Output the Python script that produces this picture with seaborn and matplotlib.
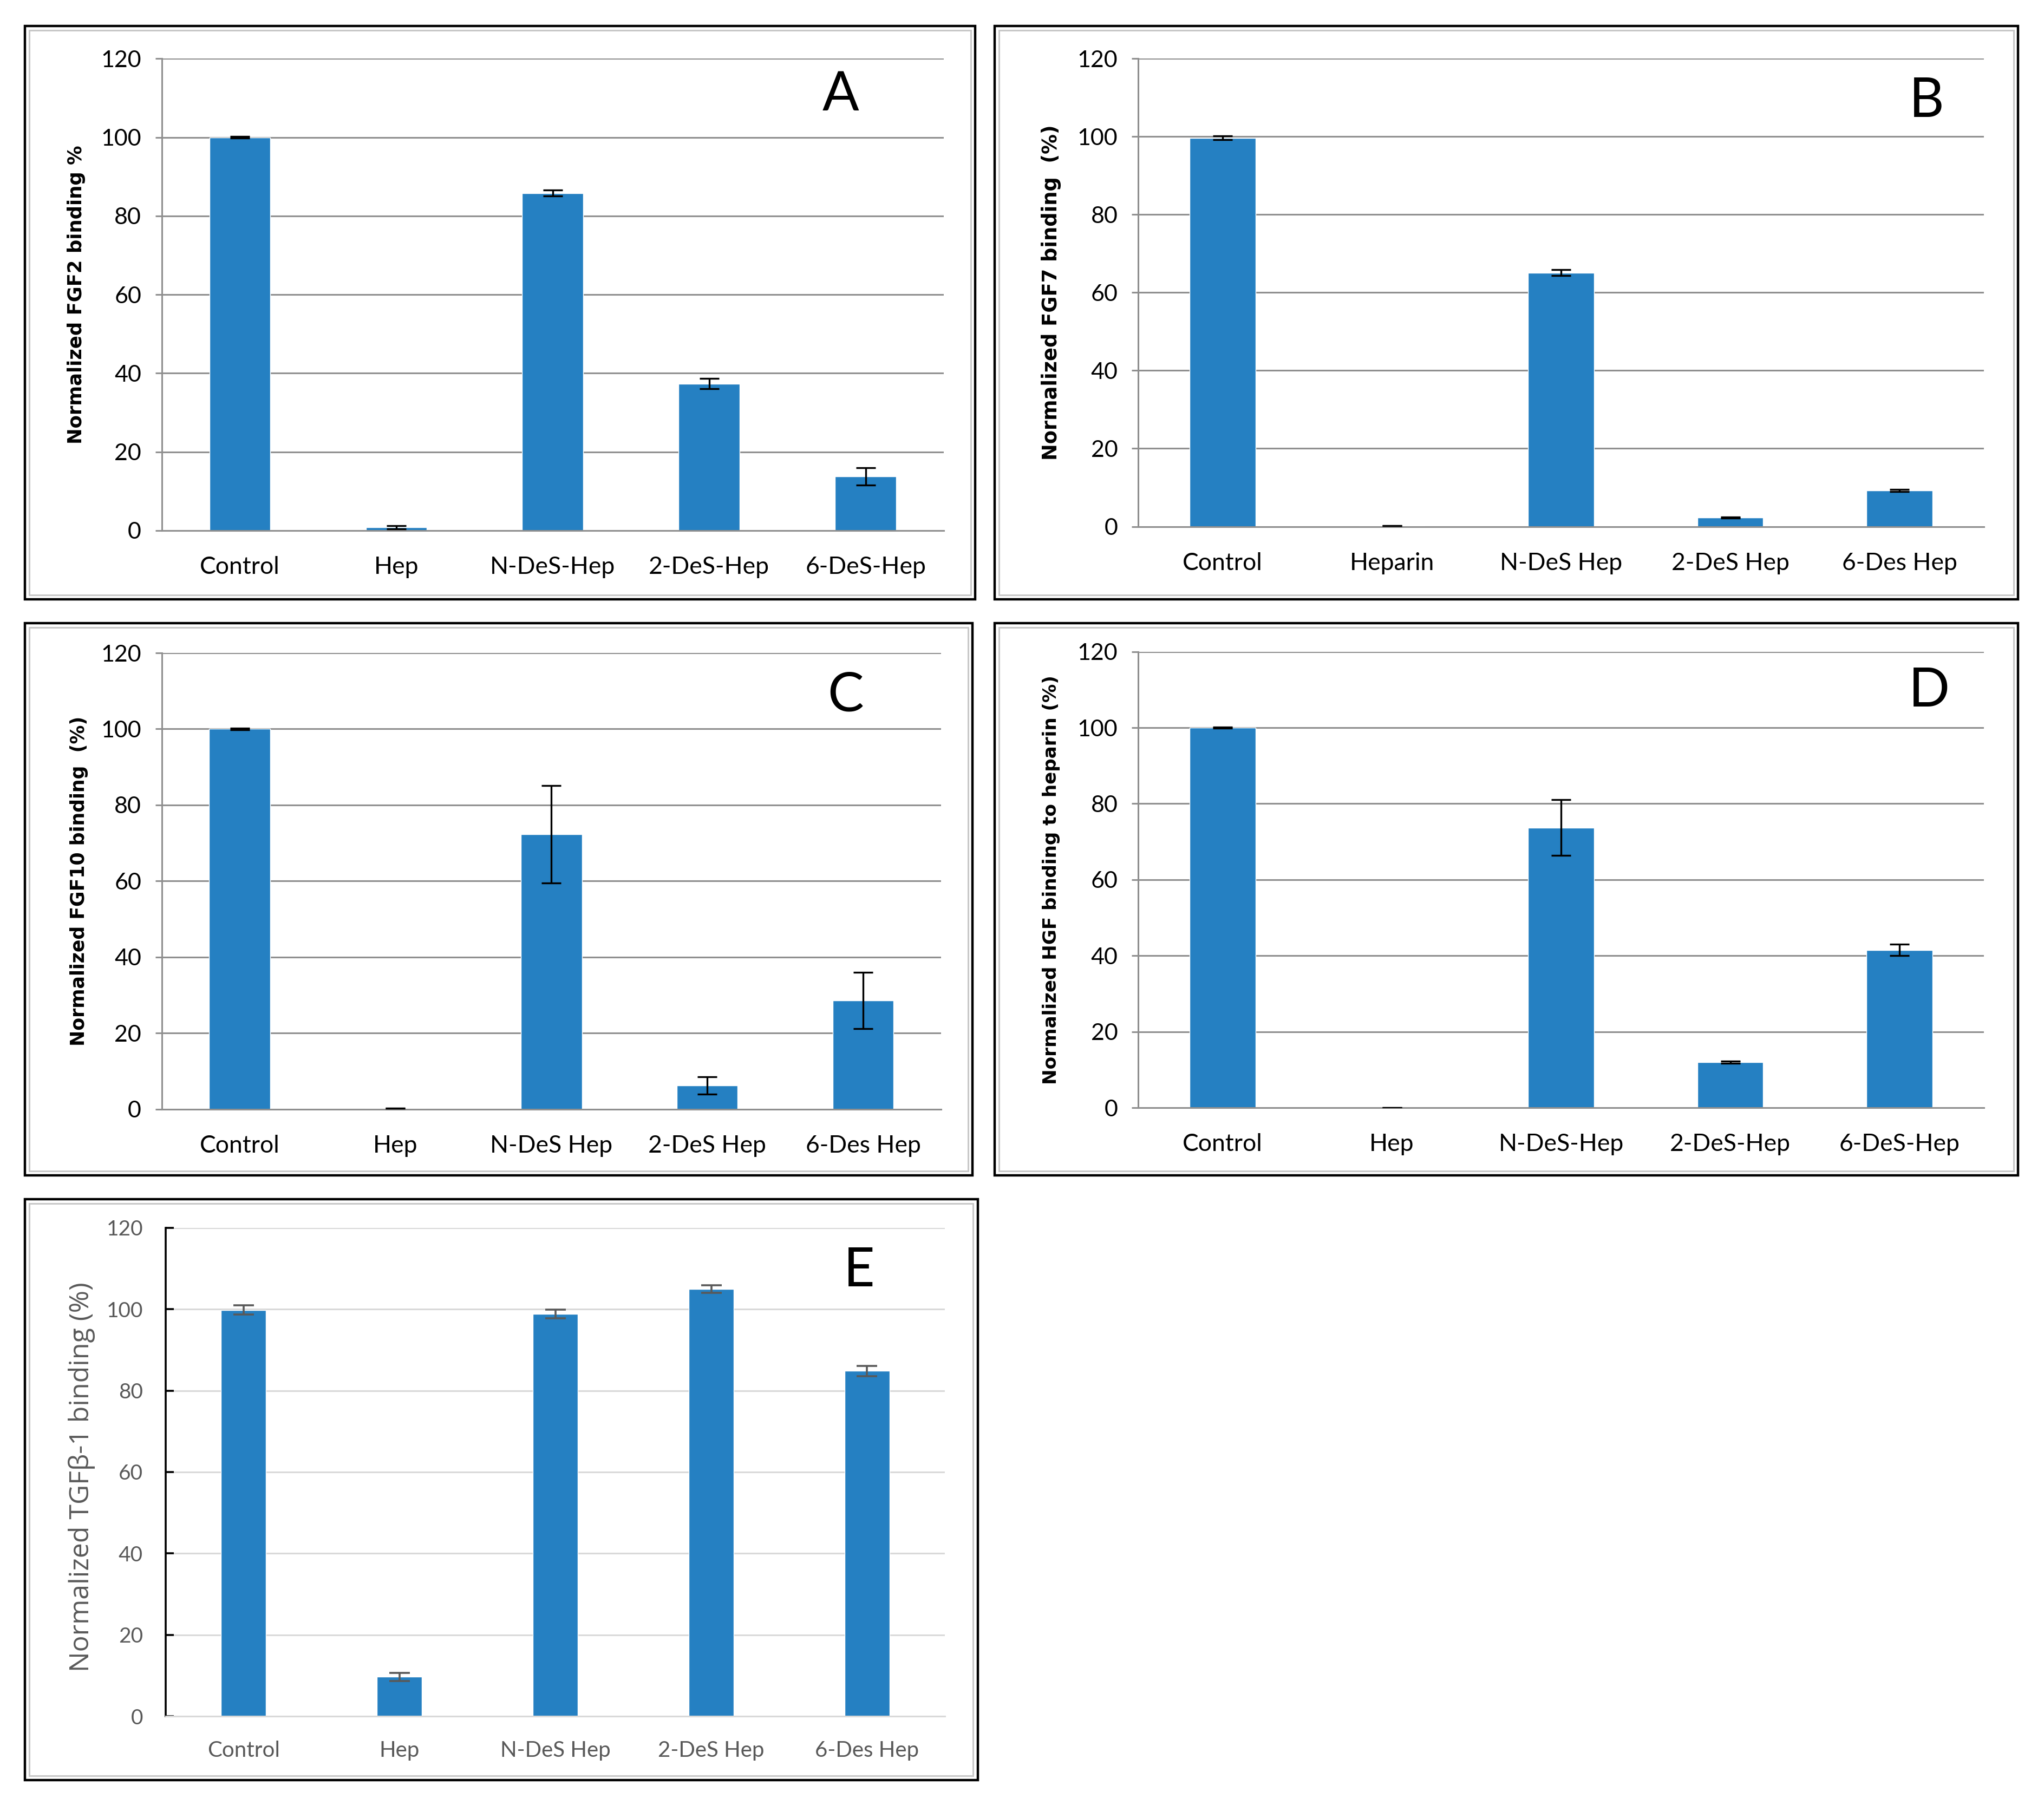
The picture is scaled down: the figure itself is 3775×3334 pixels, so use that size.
import numpy as np
import seaborn as sns
import matplotlib.pyplot as plt
from matplotlib.patches import Rectangle

# values (normalized binding, %)
cats_a = ["Control", "Hep", "N-DeS-Hep", "2-DeS-Hep", "6-DeS-Hep"]
vals_a = [100.0, 0.8, 85.8, 37.3, 13.7]
errs_a = [0.2, 0.4, 0.8, 1.3, 2.2]

cats_b = ["Control", "Heparin", "N-DeS Hep", "2-DeS Hep", "6-Des Hep"]
vals_b = [99.7, 0.2, 65.1, 2.3, 9.2]
errs_b = [0.5, 0.05, 0.8, 0.2, 0.3]

cats_c = ["Control", "Hep", "N-DeS Hep", "2-DeS Hep", "6-Des Hep"]
vals_c = [100.0, 0.2, 72.3, 6.2, 28.5]
errs_c = [0.2, 0.0, 12.8, 2.3, 7.4]

cats_d = ["Control", "Hep", "N-DeS-Hep", "2-DeS-Hep", "6-DeS-Hep"]
vals_d = [100.0, 0.0, 73.7, 12.0, 41.5]
errs_d = [0.2, 0.0, 7.3, 0.3, 1.5]

cats_e = ["Control", "Hep", "N-DeS Hep", "2-DeS Hep", "6-Des Hep"]
vals_e = [99.8, 9.7, 98.8, 104.9, 84.8]
errs_e = [1.1, 1.0, 1.1, 0.9, 1.3]

ylabels = {
    "A": "Normalized FGF2 binding %",
    "B": "Normalized FGF7 binding  (%)",
    "C": "Normalized FGF10 binding  (%)",
    "D": "Normalized HGF binding to heparin (%)",
    "E": "Normalized TGF\u03b2-1 binding (%)",
}

BLUE = "#2580c2"
GRID = "#8f8f8f"
W, H = 1568.0, 1385.0  # layout measured on a 1568x1385 view of the figure


def fig_rect(x0, y0, x1, y1):
    return [x0 / W, 1 - y1 / H, (x1 - x0) / W, (y1 - y0) / H]


sns.set_theme(style="white")
plt.rcParams["font.family"] = ["Lato", "DejaVu Sans"]

fig = plt.figure(figsize=(37.75, 33.34), dpi=100)

# outer frames around each panel
frames = [(19, 20, 748, 460), (763, 20, 1548, 460), (19, 478, 746, 902),
          (763, 478, 1548, 902), (19, 920, 750, 1366)]
for x0, y0, x1, y1 in frames:
    r = fig_rect(x0, y0, x1, y1)
    fig.add_artist(Rectangle((r[0], r[1]), r[2], r[3], transform=fig.transFigure,
                             fill=False, edgecolor="black", lw=3.2, zorder=10))
    fig.add_artist(Rectangle((r[0] + 0.0022, r[1] + 0.0025), r[2] - 0.0044, r[3] - 0.005,
                             transform=fig.transFigure, fill=False,
                             edgecolor="#c8c8c8", lw=2.2, zorder=10))


def excel_panel(rect, cats, vals, errs, letter, ylab_size, letter_pos, ylab_x):
    ax = fig.add_axes(rect)
    sns.barplot(x=cats, y=vals, color=BLUE, width=0.39, errorbar=None,
                saturation=1, ax=ax)
    ax.errorbar(np.arange(len(cats)), vals, yerr=errs, fmt="none",
                ecolor="black", elinewidth=2.4, capsize=13, capthick=2.4, zorder=5)
    ax.set_xlim(-0.5, len(cats) - 0.5)
    ax.set_ylim(0, 120)
    ax.set_yticks(range(0, 121, 20))
    ax.set_axisbelow(True)
    ax.grid(axis="y", color=GRID, lw=2.2)
    ax.grid(axis="x", visible=False)
    for s in ["top", "right"]:
        ax.spines[s].set_visible(False)
    for s in ["left", "bottom"]:
        ax.spines[s].set_color(GRID)
        ax.spines[s].set_linewidth(2.2)
    ax.set_xticks(np.arange(-0.5, len(cats), 1), minor=True)
    ax.tick_params(axis="x", which="major", length=0, pad=34, labelsize=32,
                   labelcolor="black")
    ax.tick_params(axis="x", which="minor", length=11, width=2.2, color=GRID,
                   direction="out")
    ax.tick_params(axis="y", which="major", length=9, width=2.2, color=GRID,
                   direction="out", left=True, pad=18, labelsize=31,
                   labelcolor="black")
    ax.set_ylabel(ylabels[letter], fontsize=ylab_size, fontweight="bold",
                  family="DejaVu Sans", color="black")
    ax.yaxis.set_label_coords(ylab_x, 0.5)
    ax.set_xlabel("")
    ax.text(letter_pos[0], letter_pos[1], letter, transform=ax.transAxes,
            fontsize=72, ha="center", va="center", color="black")
    return ax


excel_panel(fig_rect(124, 45, 724, 407), cats_a, vals_a, errs_a, "A", 25.5,
            (0.868, 0.923), -0.097)
excel_panel(fig_rect(873, 45, 1522, 404), cats_b, vals_b, errs_b, "B", 26.5,
            (0.932, 0.908), -0.091)
excel_panel(fig_rect(124, 501, 722, 851), cats_c, vals_c, errs_c, "C", 25,
            (0.877, 0.906), -0.094)
excel_panel(fig_rect(873, 500, 1522, 850), cats_d, vals_d, errs_d, "D", 24.6,
            (0.935, 0.914), -0.092)

# panel E uses the newer Excel look: light grid, black y axis
ax = fig.add_axes(fig_rect(127, 942, 725, 1317))
sns.barplot(x=cats_e, y=vals_e, color=BLUE, width=0.29, errorbar=None,
            saturation=1, ax=ax)
ax.errorbar(np.arange(len(cats_e)), vals_e, yerr=errs_e, fmt="none",
            ecolor="#595959", elinewidth=2.6, capsize=14, capthick=2.6, zorder=5)
ax.set_xlim(-0.5, len(cats_e) - 0.5)
ax.set_ylim(0, 120)
ax.set_yticks(range(0, 121, 20))
ax.set_axisbelow(True)
ax.grid(axis="y", color="#d9d9d9", lw=2.2)
ax.grid(axis="x", visible=False)
for s in ["top", "right"]:
    ax.spines[s].set_visible(False)
ax.spines["left"].set_color("black")
ax.spines["left"].set_linewidth(2.6)
ax.spines["bottom"].set_color("#d9d9d9")
ax.spines["bottom"].set_linewidth(2.2)
ax.tick_params(axis="x", length=0, pad=32, labelsize=29, labelcolor="#595959")
ax.tick_params(axis="y", length=11, width=2.6, color="black", direction="in",
               left=True, pad=30, labelsize=28, labelcolor="#595959")
ax.set_ylabel(ylabels["E"], fontsize=36, family="Open Sans", color="#595959")
ax.yaxis.set_label_coords(-0.09, 0.49)
ax.set_xlabel("")
ax.text(0.89, 0.912, "E", transform=ax.transAxes, fontsize=72,
        ha="center", va="center", color="black")

fig.savefig("out.png", dpi=100, facecolor="white")
